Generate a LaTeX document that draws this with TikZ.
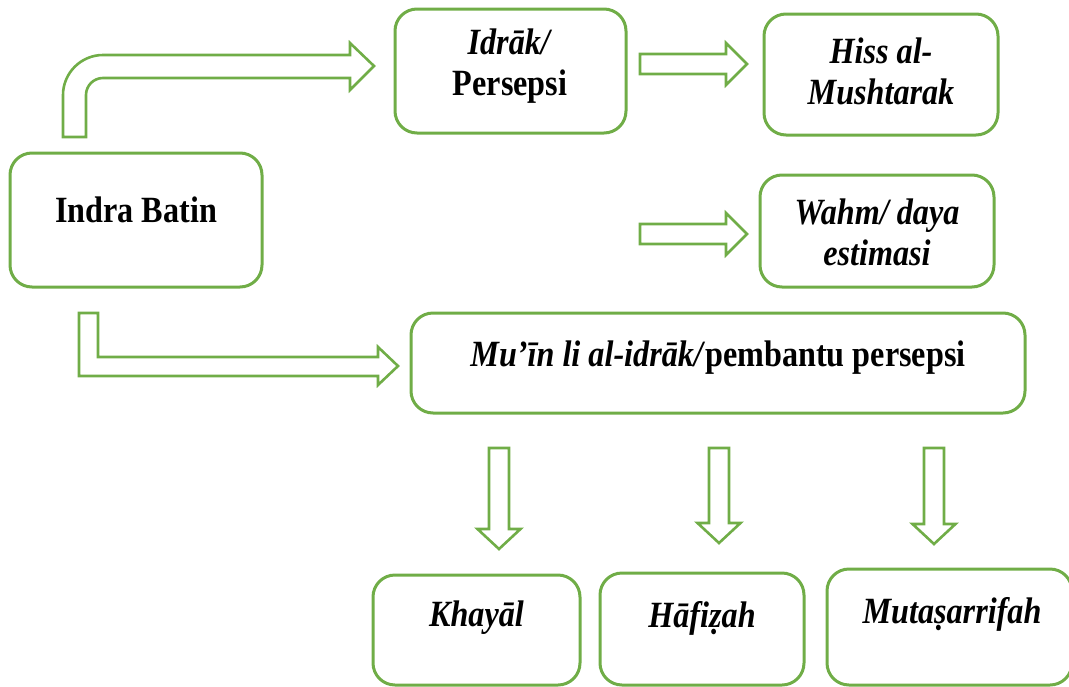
\documentclass[tikz,border=0pt]{standalone}
\usepackage{fontspec}
\setmainfont{Liberation Serif}[FakeStretch=0.87]
\definecolor{boxgreen}{HTML}{70AD47}
\tikzset{
  box/.style={draw=boxgreen,line width=3pt,rounded corners=22pt},
  lbl/.style={align=center,inner sep=0pt,font=\bfseries\fontsize{37}{41}\selectfont},
  blockarrow/.style={draw=boxgreen,line width=2.6pt,line join=miter}
}
\begin{document}
\begin{tikzpicture}[x=1pt,y=-1pt]
	\useasboundingbox (0,0) rectangle (1069,686);
	% boxes
	\node[box,minimum width=252pt,minimum height=134pt] (indra) at (136,220) {};
	\node[box,minimum width=231pt,minimum height=124pt] (idrak) at (510.5,71) {};
	\node[box,minimum width=234pt,minimum height=121pt] (hiss) at (881,74.5) {};
	\node[box,minimum width=234pt,minimum height=112pt] (wahm) at (877,231) {};
	\node[box,minimum width=614pt,minimum height=100pt] (muin) at (718,363) {};
	\node[box,minimum width=207pt,minimum height=110pt] (khayal) at (476.5,630) {};
	\node[box,minimum width=204pt,minimum height=112pt] (hafizah) at (702,629) {};
	\node[box,minimum width=245pt,minimum height=116pt] (mutas) at (949.5,627) {};
	% texts
	\node[lbl] (indra-t) at (136,210) {Indra Batin};
	\node[lbl] (idrak-t) at (510,66) {\textit{Idrāk/}\\Persepsi};
	\node[lbl] (hiss-t) at (881,71) {\textit{Hiss al-}\\\textit{Mushtarak}};
	\node[lbl] (wahm-t) at (877,232) {\textit{Wahm/ daya}\\\textit{estimasi}};
	\node[lbl] (muin-t) at (718,358) {\textit{Mu’īn li al-idrāk/}pembantu persepsi};
	\node[lbl] (khayal-t) at (476.5,618) {\textit{Khayāl}};
	\node[lbl] (hafizah-t) at (702,618) {\textit{Hāfiẓah}};
	\node[lbl] (mutas-t) at (952,614) {\textit{Mutaṣarrifah}};
	% block arrows
	\draw[blockarrow] (63,137) -- (63,95) .. controls (63,73) and (81,55) .. (103,55) -- (350,55) -- (350,43) -- (374,66) -- (350,90) -- (350,78) -- (103,78) .. controls (93.6,78) and (86,85.6) .. (86,95) -- (86,137) -- cycle;
	\foreach \y in {64,234} \draw[blockarrow] (640,{\y-10}) -- (726,{\y-10}) -- (726,{\y-21}) -- (747,\y) -- (726,{\y+21}) -- (726,{\y+10}) -- (640,{\y+10}) -- cycle;
	\draw[blockarrow] (79,313) -- (79,376) -- (378,376) -- (378,385) -- (398,366) -- (378,347) -- (378,357) -- (98,357) -- (98,313) -- cycle;
	\foreach \x/\b in {499/529,719/523,934/524} \draw[blockarrow] ({\x-10},448) -- ({\x+10},448) -- ({\x+10},\b) -- ({\x+21.5},\b) -- (\x,{\b+20}) -- ({\x-21.5},\b) -- ({\x-10},\b) -- cycle;
\end{tikzpicture}
\end{document}
